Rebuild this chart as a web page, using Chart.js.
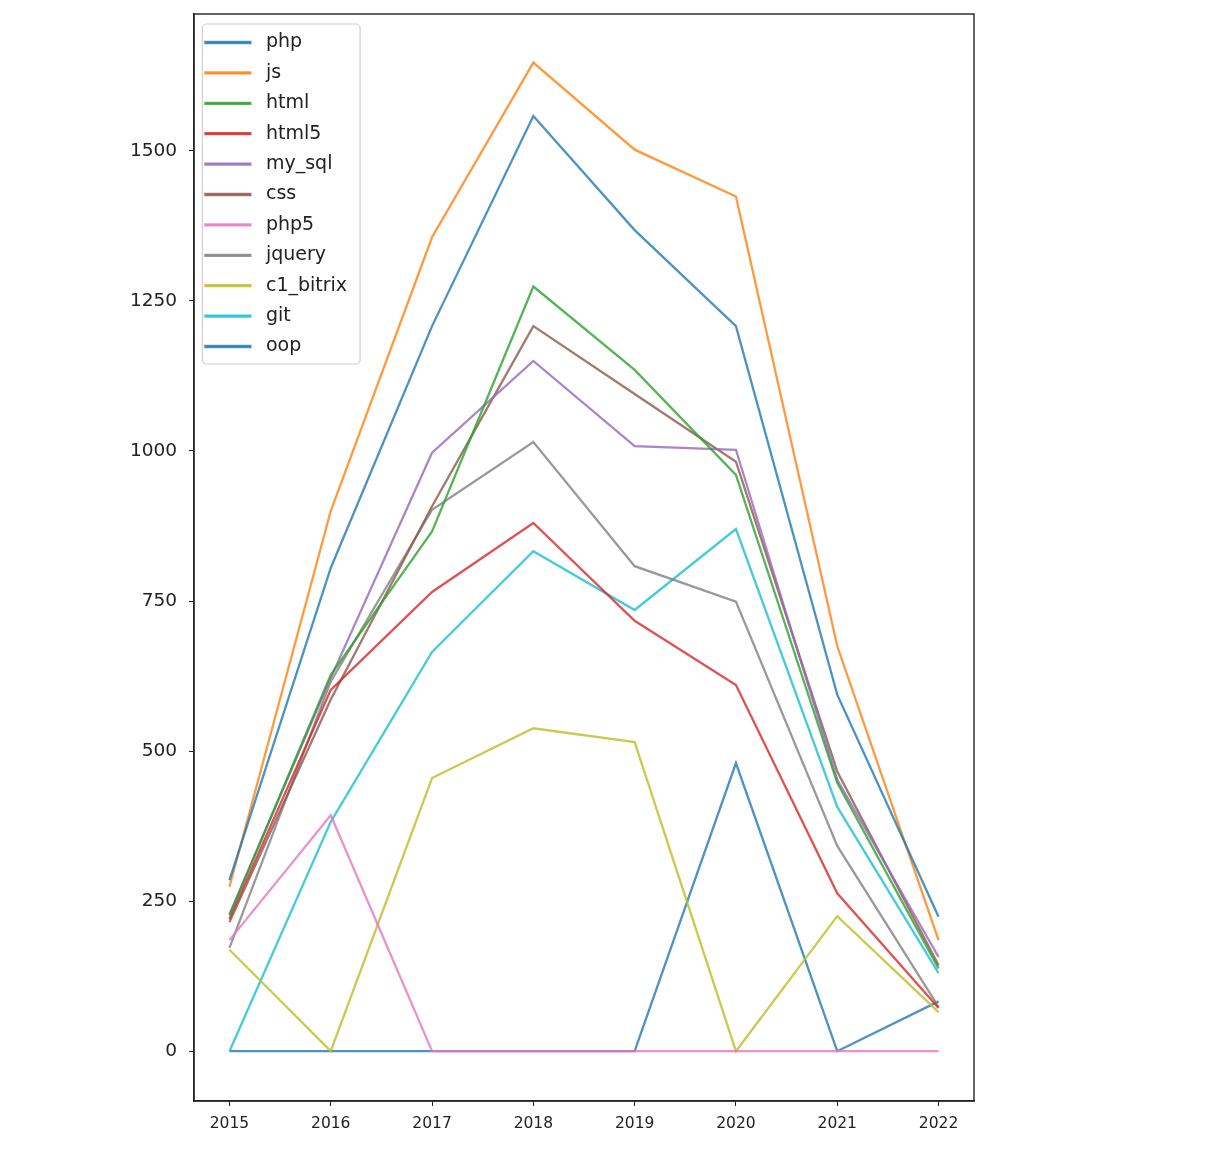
<!DOCTYPE html>
<html>
<head>
<meta charset="utf-8">
<script src="https://cdn.jsdelivr.net/npm/chart.js@4/dist/chart.umd.min.js"></script>
<style>
  html, body { margin: 0; padding: 0; background: #fff; }
  #wrap { width: 1212px; height: 1162px; }
</style>
</head>
<body>
<div id="wrap"><canvas id="skillsChart" width="1212" height="1162"></canvas></div>
<script>
// values, one array per skill
var years = [2015, 2016, 2017, 2018, 2019, 2020, 2021, 2022];
var php = [285, 805, 1208, 1558, 1368, 1208, 594, 224];
var js = [274, 900, 1356, 1647, 1502, 1424, 675, 185];
var html = [226, 627, 866, 1274, 1135, 960, 447, 138];
var html5 = [220, 602, 765, 880, 717, 610, 263, 72];
var my_sql = [228, 622, 997, 1150, 1008, 1002, 452, 157];
var css = [215, 586, 908, 1208, 1095, 982, 466, 143];
var php5 = [185, 393, 0, 0, 0, 0, 0, 0];
var jquery = [172, 616, 902, 1015, 808, 749, 342, 74];
var c1_bitrix = [169, 0, 455, 538, 515, 0, 225, 65];
var git = [0, 382, 665, 833, 735, 870, 407, 130];
var oop = [0, 0, 0, 0, 0, 480, 0, 83];
var yTicks = [0, 250, 500, 750, 1000, 1250, 1500];

var seriesNames = ['php', 'js', 'html', 'html5', 'my_sql', 'css', 'php5', 'jquery', 'c1_bitrix', 'git', 'oop'];
var seriesData = [php, js, html, html5, my_sql, css, php5, jquery, c1_bitrix, git, oop];
var colors = [
    'rgba(31, 119, 180, 0.8)',
    'rgba(255, 127, 14, 0.8)',
    'rgba(44, 160, 44, 0.8)',
    'rgba(214, 39, 40, 0.8)',
    'rgba(148, 103, 189, 0.8)',
    'rgba(140, 86, 75, 0.8)',
    'rgba(227, 119, 194, 0.8)',
    'rgba(127, 127, 127, 0.8)',
    'rgba(188, 189, 34, 0.8)',
    'rgba(23, 190, 207, 0.8)',
    'rgba(31, 119, 180, 0.8)'
];

var datasets = seriesNames.map(function(name, i) {
    return {
        label: name,
        data: seriesData[i].map(function(v, j) { return { x: years[j], y: v }; }),
        borderColor: colors[i],
        backgroundColor: colors[i],
        borderWidth: 2.3,
        pointRadius: 0,
        tension: 0,
        fill: false
    };
});

// black box round the plot, and the legend frame
var frames = {
    id: 'frames',
    beforeDraw: function(chart) {
        var lg = chart.legend, ctx = chart.ctx;
        if (!lg || !lg.legendHitBoxes.length) return;
        var hb = lg.legendHitBoxes;
        var l = hb[0].left - 3, t = hb[0].top - 9;
        var r = l, b = hb[hb.length - 1].top + hb[hb.length - 1].height + 8;
        hb.forEach(function(h) { r = Math.max(r, h.left + h.width + 13); });
        ctx.save();
        ctx.fillStyle = 'rgba(255,255,255,0.8)';
        ctx.strokeStyle = '#d0d0d0';
        ctx.lineWidth = 1.2;
        ctx.beginPath();
        ctx.roundRect(l, t, r - l, b - t, 4);
        ctx.fill();
        ctx.stroke();
        ctx.restore();
    },
    afterDraw: function(chart) {
        var a = chart.chartArea, ctx = chart.ctx;
        ctx.save();
        ctx.strokeStyle = '#222';
        ctx.lineWidth = 1.4;
        ctx.strokeRect(a.left, a.top, a.right - a.left, a.bottom - a.top);
        ctx.restore();
    }
};

new Chart(document.getElementById('skillsChart'), {
    type: 'line',
    data: { datasets: datasets },
    plugins: [frames],
    options: {
        responsive: false,
        animation: false,
        layout: { padding: { left: 0, right: 238, top: 14, bottom: 0 } },
        plugins: {
            tooltip: { enabled: false },
            legend: {
                position: 'chartArea',
                align: 'start',
                title: { display: true, text: ' ', font: { size: 5 }, padding: { top: 15.6, bottom: 0 } },
                labels: {
                    boxWidth: 45,
                    boxHeight: 1,
                    padding: 11.4,
                    color: '#222',
                    font: { family: 'DejaVu Sans', size: 19 },
                    generateLabels: function(chart) {
                        var items = Chart.defaults.plugins.legend.labels.generateLabels(chart);
                        items.forEach(function(it) { it.text = ' ' + it.text; });
                        return items;
                    }
                }
            }
        },
        scales: {
            x: {
                type: 'linear',
                min: 2014.65,
                max: 2022.35,
                afterBuildTicks: function(scale) {
                    scale.ticks = years.map(function(v) { return { value: v }; });
                },
                afterFit: function(scale) {
                    scale.height = 61;
                    scale.paddingLeft = 0;
                    scale.paddingRight = 0;
                },
                ticks: {
                    color: '#222',
                    padding: 9,
                    maxRotation: 0,
                    font: { family: 'DejaVu Sans', size: 15.5 },
                    callback: function(v) { return String(v); }
                },
                grid: { drawOnChartArea: false, drawTicks: true, tickLength: 5, color: '#222' },
                border: { display: true, color: '#222', width: 1.4 }
            },
            y: {
                type: 'linear',
                min: -83,
                max: 1728,
                afterBuildTicks: function(scale) {
                    scale.ticks = yTicks.map(function(v) { return { value: v }; });
                },
                afterFit: function(scale) {
                    scale.width = 194;
                    scale.paddingTop = 0;
                    scale.paddingBottom = 0;
                },
                ticks: {
                    color: '#222',
                    padding: 12,
                    font: { family: 'DejaVu Sans', size: 18.5 },
                    callback: function(v) { return String(v); }
                },
                grid: { drawOnChartArea: false, drawTicks: true, tickLength: 5, color: '#222' },
                border: { display: true, color: '#222', width: 1.4 }
            }
        }
    }
});
</script>
</body>
</html>
